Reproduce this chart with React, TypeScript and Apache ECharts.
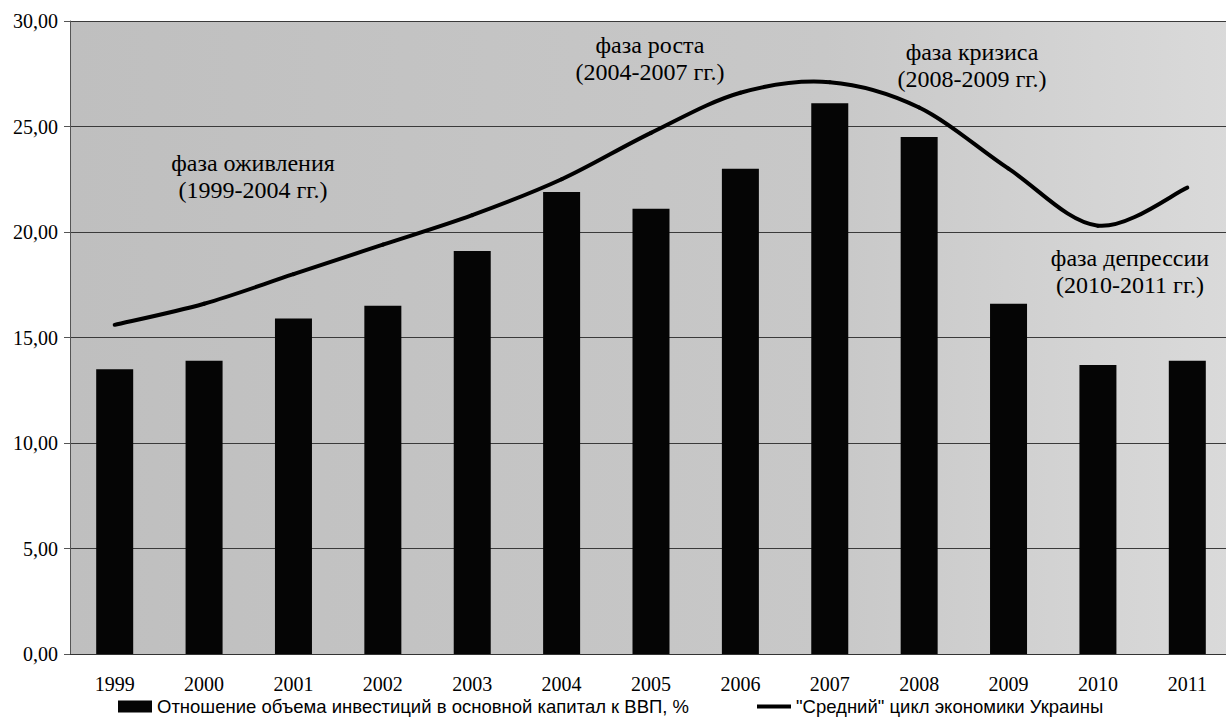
import React, { useEffect, useRef } from "react";
import * as echarts from "echarts";

const years = ["1999", "2000", "2001", "2002", "2003", "2004", "2005", "2006", "2007", "2008", "2009", "2010", "2011"];
const investmentRatio = [13.5, 13.9, 15.9, 16.5, 19.1, 21.9, 21.1, 23.0, 26.1, 24.5, 16.6, 13.7, 13.9];
const cycleValues = [15.6, 16.6, 18.0, 19.4, 20.8, 22.5, 24.7, 26.6, 27.1, 25.9, 23.0, 20.3, 22.1];
const yMin = 0;
const yMax = 30;
const yInterval = 5;
const barName = "Отношение объема инвестиций в основной капитал к ВВП, %";
const lineName = "\"Средний\" цикл экономики Украины";
const phaseTitles = ["фаза оживления", "фаза роста", "фаза кризиса", "фаза депрессии"];
const phasePeriods = ["(1999-2004 гг.)", "(2004-2007 гг.)", "(2008-2009 гг.)", "(2010-2011 гг.)"];

const SERIF = "Liberation Serif";
const SANS = "Liberation Sans";

// annotation anchor positions (pixels): centre x, top y
const phasePos = [
  [253, 149],
  [650, 31],
  [972, 38],
  [1130, 244],
];

export default function App() {
  const ref = useRef<HTMLDivElement>(null);
  useEffect(() => {
    if (!ref.current) return;
    const chart = echarts.init(ref.current, undefined, { renderer: "svg" });
    const graphics: any[] = [];
    phaseTitles.forEach((t, i) => {
      graphics.push({
        type: "text",
        x: phasePos[i][0],
        y: phasePos[i][1],
        z: 10,
        style: {
          text: t + "\n" + phasePeriods[i],
          fontFamily: SERIF,
          fontSize: 24,
          fill: "#000",
          align: "center",
          verticalAlign: "top",
          lineHeight: 27,
        },
      });
    });
    const n = cycleValues.length;
    const clampIdx = (j: number) => Math.max(0, Math.min(n - 1, j));
    chart.setOption({
      animation: false,
      backgroundColor: "#fff",
      grid: {
        left: 70,
        top: 21,
        width: 1162,
        bottom: 67,
        show: true,
        borderWidth: 0,
        outerBoundsMode: "none",
        containLabel: false,
        backgroundColor: new echarts.graphic.LinearGradient(0, 0, 1, 0, [
          { offset: 0, color: "#bfbfbf" },
          { offset: 0.65, color: "#c8c8c8" },
          { offset: 1, color: "#dadada" },
        ]),
      },
      legend: [
        {
          data: [{ name: barName, icon: "rect" }],
          left: 118,
          top: 697,
          padding: 0,
          itemWidth: 34,
          itemHeight: 12,
          textStyle: { fontFamily: SANS, fontSize: 18.5, color: "#000" },
          selectedMode: false,
        },
        {
          data: [{ name: lineName, icon: "rect" }],
          left: 757,
          top: 697,
          padding: 0,
          itemWidth: 34,
          itemHeight: 4,
          textStyle: { fontFamily: SANS, fontSize: 18.5, color: "#000" },
          selectedMode: false,
        },
      ],
      xAxis: {
        type: "category",
        data: years,
        axisLine: { show: true, lineStyle: { color: "#333", width: 1 } },
        axisTick: { show: false },
        axisLabel: { margin: 20, fontFamily: SERIF, fontSize: 20, color: "#000" },
      },
      yAxis: {
        type: "value",
        min: yMin,
        max: yMax,
        interval: yInterval,
        axisLine: { show: true, lineStyle: { color: "#555", width: 1 } },
        axisTick: { show: true, length: 6, lineStyle: { color: "#555" } },
        axisLabel: {
          margin: 12,
          fontFamily: SERIF,
          fontSize: 20,
          color: "#000",
          formatter: (v: number) => v.toFixed(2).replace(".", ","),
        },
        splitLine: { show: true, lineStyle: { color: "#3a3a3a", width: 1 } },
      },
      series: [
        {
          name: barName,
          type: "bar",
          data: investmentRatio,
          barWidth: 37,
          itemStyle: { color: "#050505" },
        },
        {
          name: lineName,
          type: "custom",
          data: cycleValues.map((v, i) => [i, v]),
          encode: { x: 0, y: 1 },
          itemStyle: { color: "#000" },
          z: 5,
          clip: false,
          renderItem: (params: any, api: any) => {
            const i = params.dataIndex;
            if (i >= n - 1) return null;
            const P = (j: number) => {
              const k = clampIdx(j);
              return api.coord([k, cycleValues[k]]);
            };
            const p0 = P(i - 1);
            const p1 = P(i);
            const p2 = P(i + 1);
            const p3 = P(i + 2);
            return {
              type: "bezierCurve",
              shape: {
                x1: p1[0],
                y1: p1[1],
                x2: p2[0],
                y2: p2[1],
                cpx1: p1[0] + (p2[0] - p0[0]) / 6,
                cpy1: p1[1] + (p2[1] - p0[1]) / 6,
                cpx2: p2[0] - (p3[0] - p1[0]) / 6,
                cpy2: p2[1] - (p3[1] - p1[1]) / 6,
              },
              style: { stroke: "#000", lineWidth: 4, fill: "none", lineCap: "round" },
            };
          },
        },
      ],
      graphic: graphics,
    });
    return () => chart.dispose();
  }, []);
  return (
    <div
      ref={ref}
      style={{ position: "fixed", left: 0, top: 0, width: 1226, height: 721, background: "#fff" }}
    />
  );
}
